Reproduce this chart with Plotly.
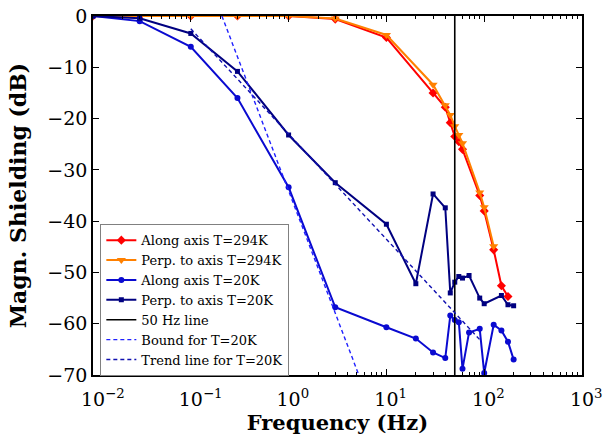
import plotly.graph_objects as go

# Shielding measurements (frequency in Hz, shielding in dB)
f_along_294 = [0.01, 0.03, 0.1, 0.3, 1, 3, 10, 30, 40, 45, 50, 55, 60, 90, 100, 125, 150, 175]
db_along_294 = [0, 0, 0, 0, 0, -0.6, -4.2, -15.0, -17.8, -20.8, -23.5, -24.5, -26.0, -35.0, -38.0, -45.6, -52.6, -54.7]

f_perp_294 = [0.01, 0.03, 0.1, 0.3, 1, 3, 10, 30, 40, 45, 50, 55, 60, 90, 100, 125]
db_perp_294 = [0, 0, 0, 0, 0, -0.5, -3.7, -13.4, -17.4, -19.3, -21.5, -23.2, -24.8, -34.4, -37.3, -44.9]

f_along_20 = [0.01, 0.03, 0.1, 0.3, 1, 3, 10, 20, 30, 40, 45, 50, 55, 60, 70, 90, 100, 125, 150, 175, 200]
db_along_20 = [0, -1.0, -6.0, -16.0, -33.4, -56.8, -60.7, -62.9, -65.6, -66.7, -58.4, -59.3, -59.7,
               -68.8, -61.7, -61.0, -69.6, -60.2, -61.3, -63.5, -67.0]

f_perp_20 = [0.01, 0.03, 0.1, 0.3, 1, 3, 10, 20, 30, 40, 45, 50, 55, 60, 70, 90, 100, 150, 175, 200]
db_perp_20 = [0, -0.45, -3.4, -10.8, -23.2, -32.5, -40.6, -52.2, -34.7, -37.4, -54.0, -51.9, -50.8,
              -51.1, -50.6, -55.0, -56.1, -54.5, -56.3, -56.5]

# 50 Hz reference line
f_50hz = [50, 50]
db_50hz = [0, -70]

# Bound and trend line for T=20K
f_bound = [0.208, 6.0]
db_bound = [0, -73.0]
f_trend = [0.1, 90]
db_trend = [-2.5, -63.1]

x_tickvals = [1e-2, 1e-1, 1e0, 1e1, 1e2, 1e3]
x_exponents = ["−2", "−1", "0", "1", "2", "3"]
y_tickvals = [0, -10, -20, -30, -40, -50, -60, -70]
y_ticktext = ["0", "−10", "−20", "−30", "−40", "−50", "−60", "−70"]

# Keep the mantissa "10" centred on its tick: a transparent copy of the
# exponent on the left balances the visible exponent on the right.
x_ticktext = [
    f"<span style='color:rgba(0,0,0,0)'><sup>{e}</sup></span>10<sup>{e}</sup>"
    for e in x_exponents
]

SERIF = "DejaVu Serif"

fig = go.Figure()
fig.add_trace(go.Scatter(x=f_along_294, y=db_along_294, mode="lines+markers",
                         name="Along axis T=294K",
                         line=dict(color="#ff0000", width=2),
                         marker=dict(symbol="diamond", size=7, color="#ff0000")))
fig.add_trace(go.Scatter(x=f_perp_294, y=db_perp_294, mode="lines+markers",
                         name="Perp. to axis T=294K",
                         line=dict(color="#ff8000", width=2),
                         marker=dict(symbol="triangle-down", size=8, color="#ff8000")))
fig.add_trace(go.Scatter(x=f_along_20, y=db_along_20, mode="lines+markers",
                         name="Along axis T=20K",
                         line=dict(color="#0a0ad0", width=2),
                         marker=dict(symbol="circle", size=6, color="#0a0ad0")))
fig.add_trace(go.Scatter(x=f_perp_20, y=db_perp_20, mode="lines+markers",
                         name="Perp. to axis T=20K",
                         line=dict(color="#000080", width=2),
                         marker=dict(symbol="square", size=5, color="#000080")))
fig.add_trace(go.Scatter(x=f_50hz, y=db_50hz, mode="lines", name="50 Hz line",
                         line=dict(color="black", width=1.6)))
fig.add_trace(go.Scatter(x=f_bound, y=db_bound, mode="lines", name="Bound for T=20K",
                         line=dict(color="#2020ff", width=1.4, dash="4px,3px")))
fig.add_trace(go.Scatter(x=f_trend, y=db_trend, mode="lines", name="Trend line for T=20K",
                         line=dict(color="#1010b0", width=1.4, dash="4px,3px")))

axis_common = dict(showline=True, linecolor="black", linewidth=1.5, mirror="ticks",
                   ticks="inside", tickcolor="black", showgrid=False, zeroline=False,
                   automargin=False,
                   tickfont=dict(family=SERIF, size=19, color="black"))

fig.update_xaxes(type="log", range=[-2, 3], tickmode="array",
                 tickvals=x_tickvals, ticktext=x_ticktext, ticklen=6, tickwidth=1,
                 ticklabelstandoff=6,
                 minor=dict(ticks="inside", ticklen=3, tickcolor="black", dtick="D1",
                            showgrid=False),
                 title=dict(text="<b>Frequency (Hz)</b>", standoff=4,
                            font=dict(family=SERIF, size=21, color="black")),
                 **axis_common)
fig.update_yaxes(range=[-70, 0], tickmode="array", tickvals=y_tickvals,
                 ticktext=y_ticktext, ticklen=6, tickwidth=1,
                 title=dict(text="<b>Magn. Shielding (dB)</b>", standoff=15,
                            font=dict(family=SERIF, size=22, color="black")),
                 **axis_common)

fig.update_layout(
    width=603, height=439,
    margin=dict(l=93, r=21, t=16, b=64),
    paper_bgcolor="white", plot_bgcolor="white",
    showlegend=True,
    legend=dict(x=0.015, y=0.42, xanchor="left", yanchor="top",
                bgcolor="white", bordercolor="#808080", borderwidth=1,
                font=dict(family=SERIF, size=13, color="black"),
                itemwidth=30, tracegroupgap=0),
)

fig.write_html("out.html")
